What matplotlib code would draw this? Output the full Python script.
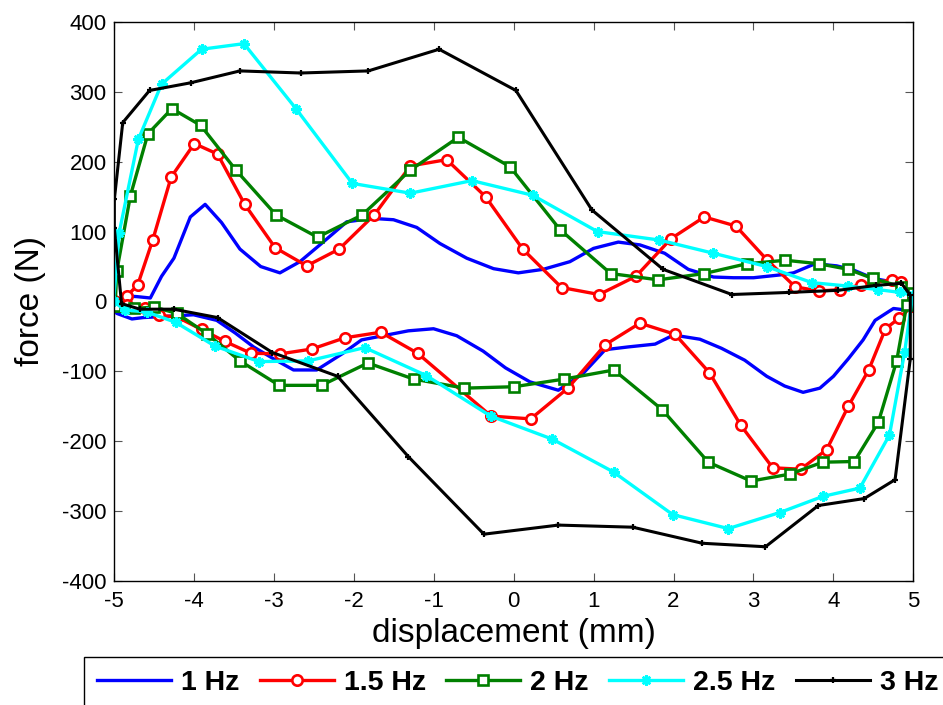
"""
force-displacement hysteresis loops for 1 - 3 Hz excitation
"""
import matplotlib
matplotlib.use("Agg")
import matplotlib.pyplot as plt

plt.rcParams['font.family'] = ['Liberation Sans', 'DejaVu Sans']
plt.rcParams['axes.unicode_minus'] = False

# ========== data (mm / N), one closed loop per frequency ==========
disp_1hz = [-5.0, -4.86, -4.71, -4.54, -4.40, -4.245, -4.04, -3.855, -3.65, -3.42,
            -3.16, -2.92, -2.67, -2.40, -2.085, -1.77, -1.50, -1.21, -0.92, -0.585,
            -0.25, 0.06, 0.37, 0.705, 1.0, 1.31, 1.58, 1.89, 2.185, 2.50,
            2.75, 3.0, 3.33, 3.50, 3.77, 4.04, 4.25, 4.50, 4.83, 4.98,
            4.89, 4.75, 4.52, 4.37, 4.185, 4.0, 3.83, 3.62, 3.39, 3.165,
            2.89, 2.60, 2.33, 2.0, 1.77, 1.435, 1.145, 0.87, 0.56, 0.205,
            -0.10, -0.38, -0.71, -1.0, -1.315, -1.585, -1.90, -2.13, -2.46, -2.75,
            -3.0, -3.25, -3.48, -3.71, -4.0, -4.46, -4.63, -4.77, -4.96, -5.0]
force_1hz = [-3, 8, 7, 5, 36, 62, 121, 139, 113, 75,
             50, 41, 57, 83, 114, 119, 117, 106, 83, 62,
             47, 41, 46, 57, 76, 85, 81, 69, 46, 35,
             34, 34, 38, 41, 54, 51, 45, 33, 26, 12,
             -12, -10, -27, -55, -82, -107, -124, -130, -121, -107,
             -84, -67, -54, -48, -61, -65, -69, -103, -127, -115,
             -95, -71, -49, -39, -42, -48, -55, -74, -98, -98,
             -82, -65, -45, -27, -19, -22, -23, -25, -17, -3]

disp_15hz = [-5.0, -4.835, -4.70, -4.51, -4.28, -3.99, -3.70, -3.36, -2.98, -2.585,
             -2.18, -1.74, -1.29, -0.835, -0.35, 0.115, 0.60, 1.07, 1.53, 1.97,
             2.385, 2.78, 3.165, 3.52, 3.82, 4.08, 4.35, 4.73, 4.85, 5.0,
             4.98, 4.82, 4.65, 4.44, 4.185, 3.915, 3.59, 3.24, 2.84, 2.45,
             2.02, 1.58, 1.145, 0.68, 0.215, -0.28, -1.20, -1.66, -2.11, -2.52,
             -2.92, -3.285, -3.61, -3.90, -4.21, -4.43, -4.61, -4.835, -5.0]
force_15hz = [0, 8, 23, 88, 178, 226, 211, 139, 77, 51,
              75, 124, 194, 203, 150, 75, 20, 10, 36, 90,
              121, 108, 60, 21, 15, 17, 24, 31, 28, 5,
              -7, -24, -39, -98, -150, -212, -240, -238, -177, -102,
              -47, -31, -62, -124, -168, -164, -74, -44, -52, -68,
              -75, -74, -57, -40, -22, -20, -10, -5, 0]

disp_2hz = [-4.98, -4.96, -4.79, -4.57, -4.27, -3.91, -3.47, -2.97, -2.45, -1.89,
            -1.29, -0.69, -0.045, 0.58, 1.215, 1.81, 2.385, 2.915, 3.40, 3.82,
            4.185, 4.49, 4.85, 4.99, 4.915, 4.79, 4.56, 4.26, 3.865, 3.455,
            2.97, 2.435, 1.86, 1.255, 0.635, 0.005, -0.615, -1.25, -1.82, -2.40,
            -2.93, -3.42, -3.835, -4.21, -4.49, -4.75, -4.98]
force_2hz = [-7, 43, 151, 240, 276, 252, 188, 124, 92, 124,
             188, 235, 193, 103, 40, 31, 40, 54, 59, 54,
             46, 33, 21, 12, -5, -85, -173, -229, -230, -247,
             -257, -230, -155, -98, -111, -122, -124, -111, -88, -120,
             -120, -85, -46, -17, -8, -10, -7]

disp_25hz = [-5.0, -4.93, -4.69, -4.40, -3.90, -3.37, -2.72, -2.015, -1.29, -0.52,
             0.24, 1.05, 1.82, 2.50, 3.165, 3.73, 4.185, 4.56, 4.83, 4.99,
             4.89, 4.70, 4.33, 3.865, 3.33, 2.685, 1.99, 1.25, 0.485, -0.285,
             -1.09, -1.86, -2.565, -3.18, -3.73, -4.22, -4.585, -4.86, -5.0]
force_25hz = [0, 98, 232, 311, 361, 369, 276, 169, 155, 173,
              152, 100, 88, 69, 50, 27, 22, 17, 13, 9,
              -72, -191, -267, -279, -302, -325, -305, -244, -197, -164,
              -106, -66, -85, -86, -64, -30, -15, -12, 0]

disp_3hz = [-4.90, -4.99, -4.99, -4.885, -4.55, -4.035, -3.42, -2.66, -1.815, -0.93,
            0.03, 0.98, 1.87, 2.73, 3.45, 4.06, 4.53, 4.85, 4.96, 4.96,
            4.77, 4.385, 3.81, 3.15, 2.36, 1.49, 0.56, -0.37, -1.315, -2.2,
            -3.015, -3.70, -4.25, -4.67, -4.90]
force_3hz = [-3, 105, 146, 256, 302, 313, 330, 327, 330, 361,
             302, 131, 46, 10, 13, 16, 23, 26, 9, -82,
             -255, -282, -292, -351, -346, -323, -320, -333, -222, -107,
             -73, -23, -11, -11, -3]

labels = ['1 Hz', '1.5 Hz', '2 Hz', '2.5 Hz', '3 Hz']

# ========== plot ==========
fig = plt.figure(figsize=(9.43, 7.05), dpi=100)
fig.patch.set_facecolor('white')
ax = fig.add_axes([0.1204, 0.1759, 0.8483, 0.7929])

h1, = ax.plot(disp_1hz, force_1hz, color='blue', lw=2.4)
h2, = ax.plot(disp_15hz, force_15hz, color='red', lw=2.4, marker='o', ms=7.5,
              mfc='white', mec='red', mew=1.9)
h3, = ax.plot(disp_2hz, force_2hz, color=(0, 0.5, 0), lw=2.4, marker='s', ms=6.5,
              mfc='white', mec=(0, 0.5, 0), mew=1.9)
h4, = ax.plot(disp_25hz, force_25hz, color='cyan', lw=2.4, marker=(8, 2, 0), ms=7.5,
              mec='cyan', mew=1.8)
h5, = ax.plot(disp_3hz, force_3hz, color='black', lw=2.2, marker='+', ms=4.5,
              mec='black', mew=1.6)

ax.set_xlim(-5, 5)
ax.set_ylim(-400, 400)
ax.set_xticks(range(-5, 6))
ax.set_yticks(range(-400, 401, 100))
ax.tick_params(direction='in', top=True, right=True, length=5.5, width=0.8,
               color='#555555', labelsize=16)
ax.tick_params(axis='x', pad=7)
ax.tick_params(axis='y', pad=5)
for sp in ax.spines.values():
    sp.set_linewidth(1.0)
    sp.set_color('black')

ax.set_xlabel('displacement (mm)', fontsize=24, va='top')
ax.xaxis.set_label_coords(0.5, -0.066)
ax.set_ylabel('force (N)', fontsize=24, va='center')
ax.yaxis.set_label_coords(-0.104, 0.5)

# 凡例（図の下、横並び）
leg = fig.legend([h1, h2, h3, h4, h5], labels, loc='upper left',
                 bbox_to_anchor=(84 / 943, 48 / 705), ncol=5,
                 prop={'weight': 'bold', 'size': 20.5},
                 frameon=True, fancybox=False, framealpha=1, edgecolor='black',
                 borderaxespad=0, borderpad=0.45, handlelength=2.6,
                 handletextpad=0.35, columnspacing=0.72)
leg.get_frame().set_linewidth(1.0)

fig.savefig('out.png', dpi=100, facecolor='white')
